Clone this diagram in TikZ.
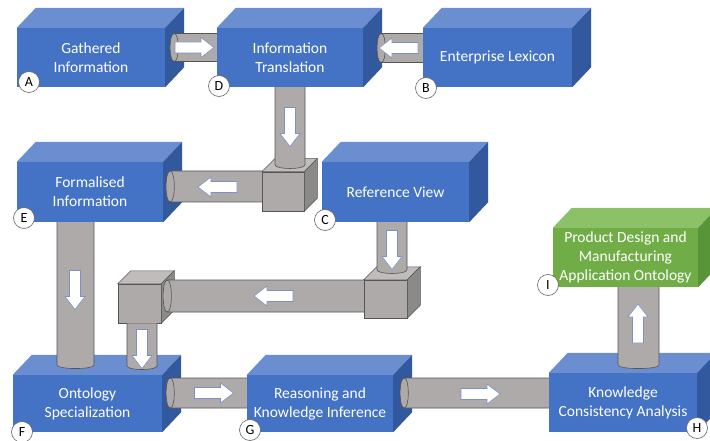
\documentclass[tikz,border=0pt]{standalone}
\usepackage{fontspec}
\newfontfamily\carlito{Carlito}
\usetikzlibrary{calc}
\definecolor{bfront}{RGB}{68,114,196}
\definecolor{btop}{RGB}{106,142,208}
\definecolor{bside}{RGB}{50,88,158}
\definecolor{gfront}{RGB}{112,173,71}
\definecolor{gtop}{RGB}{140,193,103}
\definecolor{gside}{RGB}{88,148,56}
\definecolor{pipec}{RGB}{174,170,170}
\definecolor{pipee}{RGB}{85,85,85}
\definecolor{ctop}{RGB}{192,188,188}
\definecolor{cside}{RGB}{140,137,137}
\definecolor{arre}{RGB}{125,145,195}
\newcommand\boxfaces[3]{%
  \fill[#2] (#1.north west) -- ([shift={(19,-20)}]#1.north west) -- ([shift={(19,-20)}]#1.north east) -- (#1.north east) -- cycle;
  \fill[#3] (#1.north east) -- ([shift={(19,-20)}]#1.north east) -- ([shift={(19,-20)}]#1.south east) -- (#1.south east) -- cycle;}
\newcommand\cubefaces[1]{%
  \filldraw[ctop,draw=pipee,line width=0.5pt] (#1.north west) -- ([shift={(13,-13)}]#1.north west) -- ([shift={(13,-13)}]#1.north east) -- (#1.north east) -- cycle;
  \filldraw[cside,draw=pipee,line width=0.5pt] (#1.north east) -- ([shift={(13,-13)}]#1.north east) -- ([shift={(13,-13)}]#1.south east) -- (#1.south east) -- cycle;}
% horizontal pipe: #1 left end centre, #2 node at right end, #3 half height
\newcommand\hpipe[3]{%
  \coordinate (pl) at #1;
  \coordinate (prr) at #2;
  \coordinate (pr) at (prr |- pl);
  \fill[pipec] ([yshift=#3pt]pr) -- ([yshift=#3pt]pl) .. controls ([xshift=-5.5pt,yshift=#3pt]pl) and ([xshift=-5.5pt,yshift=-#3pt]pl) .. ([yshift=-#3pt]pl) -- ([yshift=-#3pt]pr) -- cycle;
  \draw[pipeedge] ([yshift=#3pt]pr) -- ([yshift=#3pt]pl) .. controls ([xshift=-5.5pt,yshift=#3pt]pl) and ([xshift=-5.5pt,yshift=-#3pt]pl) .. ([yshift=-#3pt]pl) -- ([yshift=-#3pt]pr);
  \draw[pipeedge] ([yshift=#3pt]pl) .. controls ([xshift=5.5pt,yshift=#3pt]pl) and ([xshift=5.5pt,yshift=-#3pt]pl) .. ([yshift=-#3pt]pl);}
% vertical pipe: #1 top centre, #2 point giving bottom y, #3 half width
\newcommand\vpipe[3]{%
  \coordinate (pt) at #1;
  \coordinate (pbb) at #2;
  \coordinate (pb) at (pt |- pbb);
  \fill[pipec] ([xshift=-#3pt]pt) -- ([xshift=-#3pt]pb) .. controls ([xshift=-#3pt,yshift=-5pt]pb) and ([xshift=#3pt,yshift=-5pt]pb) .. ([xshift=#3pt]pb) -- ([xshift=#3pt]pt) -- cycle;
  \draw[pipeedge] ([xshift=-#3pt]pt) -- ([xshift=-#3pt]pb) .. controls ([xshift=-#3pt,yshift=-5pt]pb) and ([xshift=#3pt,yshift=-5pt]pb) .. ([xshift=#3pt]pb) -- ([xshift=#3pt]pt);}
\begin{document}
\begin{tikzpicture}[x=1pt,y=-1pt,
  box/.style={fill=bfront,text=white,align=center,inner sep=0pt,minimum height=59pt,
    font=\carlito\fontsize{15.5}{19}\selectfont},
  gbox/.style={box,fill=gfront},
  cube/.style={fill=pipec,draw=pipee,line width=0.5pt,inner sep=0pt},
  pipeedge/.style={draw=pipee,line width=0.6pt},
  lab/.style={circle,draw=black!60,fill=white,minimum size=21pt,inner sep=0pt,line width=0.6pt,
    font=\carlito\fontsize{14}{14}\selectfont},
  blockarrow/.pic={\filldraw[fill=white,draw=arre,line width=0.6pt]
    (-19.5,-5.5) -- (6.5,-5.5) -- (6.5,-10) -- (19.5,0) -- (6.5,10) -- (6.5,5.5) -- (-19.5,5.5) -- cycle;}]
\clip (0,0) rectangle (710,441);
\fill[white] (0,0) rectangle (710,441);
% boxes
\node[box,minimum width=148pt] (A) at (91,57.5) {Gathered\\Information};
\node[box,minimum width=146pt] (D) at (290,57.5) {Information\\Translation};
\node[box,minimum width=149pt] (B) at (497.5,57.5) {Enterprise Lexicon};
\node[box,minimum width=146pt,minimum height=60pt] (E) at (90,192) {Formalised\\Information};
\node[box,minimum width=147pt,minimum height=60pt] (C) at (395.5,192) {Reference View};
\node[gbox,minimum width=145pt] (I) at (625.5,257.5) {Product Design and\\Manufacturing\\Application Ontology};
\node[box,minimum width=149pt,minimum height=57pt] (F) at (87.5,403.5) {Ontology\\Specialization};
\node[box,minimum width=146pt,minimum height=57pt] (G) at (320,403.5) {Reasoning and\\Knowledge Inference};
\node[box,minimum width=148pt] (H) at (623,402.5) {Knowledge\\Consistency Analysis};
\foreach \n in {A,D,B,E,C,F,G,H} {\boxfaces{\n}{btop}{bside}}
\boxfaces{I}{gtop}{gside}
% elbow cubes
\node[cube,minimum width=42pt,minimum height=39pt] (K1) at (283,191.5) {};
\node[cube,minimum width=43pt,minimum height=38pt] (K2) at (385.5,299) {};
\node[cube,minimum width=43pt,minimum height=39pt] (K3) at (139.5,303.5) {};
\cubefaces{K1}\cubefaces{K2}\cubefaces{K3}
% pipes
\hpipe{($(A.east)+(9,-10)$)}{(D.west)}{14}
\hpipe{($(D.east)+(18,-9.5)$)}{(B.west)}{14.5}
\vpipe{(D.south)}{($(K1.north)+(0,-7)$)}{15}
\hpipe{($(E.east)+(7,-5.5)$)}{(K1.west)}{15.5}
\vpipe{($(E.south)+(-14.5,0)$)}{($(F.north)+(0,-10)$)}{18.5}
\vpipe{($(C.south)+(-3.5,0)$)}{($(K2.north)+(0,-10)$)}{15}
\hpipe{($(K3.east)+(6,-7.5)$)}{(K2.west)}{16}
\vpipe{($(K3.south)+(2.5,0)$)}{($(F.north)+(0,-9)$)}{15}
\hpipe{($(F.east)+(8,-10.5)$)}{(G.west)}{15}
\hpipe{($(G.east)+(11,-10.5)$)}{(H.west)}{15}
\vpipe{($(I.south)+(13,0)$)}{($(H.north)+(0,-8)$)}{20.5}
% arrows
\pic at (194.5,47.5) {blockarrow};
\pic[rotate=180] at (398.5,48) {blockarrow};
\pic[rotate=-90] at (290,127) {blockarrow};
\pic[rotate=180] at (217.5,187) {blockarrow};
\pic[rotate=-90] at (75,290) {blockarrow};
\pic[rotate=-90] at (392,250) {blockarrow};
\pic[rotate=180] at (273.5,296) {blockarrow};
\pic[rotate=-90] at (142,349) {blockarrow};
\pic at (214,393) {blockarrow};
\pic at (480.5,394) {blockarrow};
\pic[rotate=90] at (638,323.5) {blockarrow};
% labels
\node[lab] (lA) at (29,82) {A};
\node[lab] (lD) at (219,86) {D};
\node[lab] (lB) at (426,88) {B};
\node[lab] (lE) at (24,218) {E};
\node[lab] (lC) at (325,220) {C};
\node[lab] (lI) at (548,285) {I};
\node[lab] (lF) at (22,432) {F};
\node[lab] (lG) at (250,430) {G};
\node[lab] (lH) at (697,428) {H};
\end{tikzpicture}
\end{document}
